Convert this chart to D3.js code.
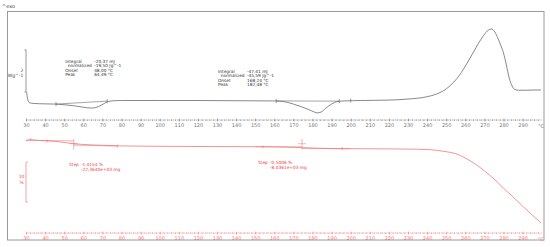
<!DOCTYPE html>
<html>
<head>
<meta charset="utf-8">
<script src="https://cdn.jsdelivr.net/npm/d3@7"></script>
<style>
  body { margin: 0; background: #fff; }
  svg text { font-family: "DejaVu Sans", Verdana, sans-serif; }
</style>
</head>
<body>
<div id="chart"></div>
<script>
// temperature ticks (°C)
const tempTicks = [30, 40, 50, 60, 70, 80, 90, 100, 110, 120, 130, 140, 150, 160, 170, 180, 190, 200, 210, 220, 230, 240, 250, 260, 270, 280, 290];

// DSC heat flow (W/g, relative)
const dscTemp = [30.3, 31, 32, 34, 40, 45.7, 50, 55, 60, 64.5, 68, 71, 73, 76, 80, 100, 120, 140, 160, 163, 166, 170, 174, 178, 181, 182.5, 184.5, 187, 190, 193, 197, 205, 220, 230, 240, 245, 250, 254, 257, 261, 264, 267, 269, 271.5, 273.5, 275.5, 277, 278.5, 280, 281.5, 283, 284.5, 286, 288, 292, 296, 299.6];
const dscFlow = [1.10, 0.71, 0.58, 0.55, 0.53, 0.52, 0.49, 0.44, 0.37, 0.33, 0.40, 0.55, 0.64, 0.68, 0.69, 0.69, 0.69, 0.68, 0.67, 0.66, 0.62, 0.52, 0.40, 0.26, 0.14, 0.10, 0.14, 0.33, 0.52, 0.64, 0.67, 0.69, 0.71, 0.76, 0.87, 1.00, 1.24, 1.57, 1.90, 2.48, 2.95, 3.43, 3.71, 4.00, 4.10, 3.95, 3.67, 3.33, 2.95, 2.38, 1.76, 1.38, 1.21, 1.18, 1.18, 1.19, 1.19];

// DSC integration limits and baselines
const dscLimitsTemp = [45.7, 72.5, 161, 194, 200];
const dscLimitsFlow = [0.52, 0.66, 0.67, 0.66, 0.69];
const dscBase1 = [[45.7, 0.52], [72.5, 0.66]];
const dscBase2 = [[161, 0.67], [194, 0.66]];

// TGA mass (%)
const tgaTemp = [30, 32.5, 36, 41, 45, 50, 55, 60, 70, 80, 100, 120, 150, 160, 170, 180, 190, 200, 220, 230, 240, 245, 250, 255, 260, 265, 270, 275, 280, 285, 290, 295, 299.6];
const tgaMass = [100, 100.2, 100.05, 99.9, 99.8, 99.5, 99.2, 99.0, 98.8, 98.65, 98.55, 98.5, 98.45, 98.4, 98.3, 98.1, 97.98, 97.95, 97.9, 97.85, 97.75, 97.55, 97.2, 96.7, 95.6, 94.2, 92.4, 90.4, 88.1, 85.9, 83.6, 81.4, 79.4];

// TGA step markers
const tgaMarkTemp = [32.5, 41, 78, 154, 195.5];
const tgaMarkMass = [100.2, 99.9, 98.6, 98.45, 97.98];
const tgaStepTemp = [55, 174.5];
const tgaTangent1 = [[30, 100.05], [55, 99.9]];
const tgaTangent2 = [[55, 98.85], [78, 98.6]];
const tgaTangent3 = [[150, 98.45], [174.5, 98.4]];
const tgaTangent4 = [[174.5, 98.05], [200, 97.95]];

// annotation texts
const peak1Text = [["Integral", "-20,37 mJ"], ["  normalized", "-19,50 Jg^-1"], ["Onset", "48,00 °C"], ["Peak", "64,49 °C"]];
const peak2Text = [["Integral", "-47,41 mJ"], ["  normalized", "-45,59 Jg^-1"], ["Onset", "168,24 °C"], ["Peak", "182,48 °C"]];
const step1Text = ["Step", "-1,4154 %", "-22,3640e+03 mg"];
const step2Text = ["Step", "-0,5006 %", "-8,0361e+03 mg"];

// svg size
const width = 550;
const height = 247;

const dscColor = "#6a6a6a";
const tgaColor = "#f07878";
const tgaText = "#e84040";

function createSvg() {
    const svg = d3.select("#chart").append("svg")
        .attr("width", width)
        .attr("height", height)
    return svg
};

// scales
const x = d3.scaleLinear().domain([30, 300]).range([26, 541.7]);
const yDsc = d3.scaleLinear().domain([0, 5]).range([115, 10]);
const yTga = d3.scaleLinear().domain([100, 80]).range([140.5, 220.5]);

function drawAxis(svg, yPos, color) {
    const minor = d3.axisBottom(x)
        .tickValues(d3.range(30, 300, 2))
        .tickSize(1.5)
        .tickSizeOuter(0)
        .tickFormat("")
    const g1 = svg.append("g")
        .attr("transform", `translate(0, ${yPos})`)
        .call(minor)
    g1.select(".domain").attr("stroke", color).attr("stroke-width", 0.6).attr("stroke-dasharray", "1.2,0.7")
    g1.selectAll(".tick line").attr("stroke", color).attr("stroke-width", 0.5)

    const major = d3.axisBottom(x)
        .tickValues(tempTicks)
        .tickSize(3)
        .tickSizeOuter(0)
        .tickPadding(2)
    const g2 = svg.append("g")
        .attr("transform", `translate(0, ${yPos - 1})`)
        .call(major)
    g2.select(".domain").remove()
    g2.selectAll(".tick line").attr("stroke", color).attr("stroke-width", 0.5)
    g2.selectAll(".tick text")
        .attr("fill", color)
        .style("font-size", "5px")
        .style("font-family", "DejaVu Sans, sans-serif")
    svg.append("text")
        .attr("x", x(298))
        .attr("y", yPos + 8)
        .attr("fill", color)
        .style("font-size", "5px")
        .text("°C")
};

function drawText(svg, rows, tx, ty, color) {
    rows.forEach((r, i) => {
        svg.append("text")
            .attr("x", tx)
            .attr("y", ty + i * 4.6)
            .attr("fill", color)
            .style("font-size", "4.3px")
            .attr("xml:space", "preserve")
            .text(r[0])
        svg.append("text")
            .attr("x", tx + 29)
            .attr("y", ty + i * 4.6)
            .attr("fill", color)
            .style("font-size", "4.3px")
            .text(r[1])
    })
};

function createPlot() {
    const svg = createSvg()

    // frame
    svg.append("rect")
        .attr("x", 7.5).attr("y", 11.5)
        .attr("width", 536.5).attr("height", 228.5)
        .attr("fill", "none")
        .attr("stroke", "#9a9a9a")
        .attr("stroke-width", 1)

    svg.append("text")
        .attr("x", 2).attr("y", 8)
        .attr("fill", "#444")
        .style("font-size", "5px")
        .text("^exo")

    drawAxis(svg, 119.5, "#777")
    drawAxis(svg, 232.5, tgaColor)

    // DSC
    const dscData = dscTemp.map((t, i) => [t, dscFlow[i]])
    const line = d3.line().x(d => x(d[0])).y(d => yDsc(d[1]))
    const curve = d3.line().x(d => x(d[0])).y(d => yDsc(d[1])).curve(d3.curveMonotoneX)

    svg.append("path")
        .datum(dscData)
        .attr("d", curve)
        .attr("fill", "none")
        .attr("stroke", dscColor)
        .attr("stroke-width", 0.8)

    ;[dscBase1, dscBase2].forEach(b => {
        svg.append("path").datum(b).attr("d", line)
            .attr("fill", "none").attr("stroke", dscColor).attr("stroke-width", 0.6)
    })

    svg.selectAll(".dscMark")
        .data(dscLimitsTemp)
        .enter()
        .append("line")
        .attr("x1", d => x(d)).attr("x2", d => x(d))
        .attr("y1", (d, i) => yDsc(dscLimitsFlow[i]) - 2)
        .attr("y2", (d, i) => yDsc(dscLimitsFlow[i]) + 2)
        .attr("stroke", dscColor)
        .attr("stroke-width", 0.7)

    // DSC scale bar (2 W/g)
    svg.append("path")
        .datum([[29.2, 3.1], [30, 3.1], [30, 1.1], [29.2, 1.1]])
        .attr("d", line)
        .attr("fill", "none")
        .attr("stroke", dscColor)
        .attr("stroke-width", 0.7)
    svg.append("text")
        .attr("x", x(28.6)).attr("y", yDsc(2.05))
        .attr("text-anchor", "end")
        .attr("fill", "#444")
        .style("font-size", "4.5px")
        .text("2")
    svg.append("text")
        .attr("x", x(28.6)).attr("y", yDsc(1.83))
        .attr("text-anchor", "end")
        .attr("fill", "#444")
        .style("font-size", "4.5px")
        .text("Wg^-1")

    drawText(svg, peak1Text, x(50.5), 62.5, "#333")
    drawText(svg, peak2Text, x(130.5), 72.5, "#333")

    // TGA
    const tgaData = tgaTemp.map((t, i) => [t, tgaMass[i]])
    const tCurve = d3.line().x(d => x(d[0])).y(d => yTga(d[1])).curve(d3.curveMonotoneX)
    svg.append("path")
        .datum(tgaData)
        .attr("d", tCurve)
        .attr("fill", "none")
        .attr("stroke", tgaColor)
        .attr("stroke-width", 0.8)

    const straight = d3.line().x(d => x(d[0])).y(d => yTga(d[1]))
    ;[tgaTangent1, tgaTangent2, tgaTangent3, tgaTangent4].forEach(t => {
        svg.append("path").datum(t).attr("d", straight)
            .attr("fill", "none").attr("stroke", tgaColor).attr("stroke-width", 0.6)
    })

    svg.selectAll(".tgaMark")
        .data(tgaMarkTemp)
        .enter()
        .append("line")
        .attr("x1", d => x(d)).attr("x2", d => x(d))
        .attr("y1", (d, i) => yTga(tgaMarkMass[i]) - 1.5)
        .attr("y2", (d, i) => yTga(tgaMarkMass[i]) + 1.5)
        .attr("stroke", tgaColor)
        .attr("stroke-width", 0.7)

    tgaStepTemp.forEach(t => {
        svg.append("line")
            .attr("x1", x(t)).attr("x2", x(t))
            .attr("y1", yTga(100.4)).attr("y2", yTga(97.7))
            .attr("stroke", tgaColor).attr("stroke-width", 0.6)
        svg.append("line")
            .attr("x1", x(t) - 4).attr("x2", x(t) + 4)
            .attr("y1", yTga(99.2)).attr("y2", yTga(99.2))
            .attr("stroke", tgaColor).attr("stroke-width", 0.5)
    })

    // TGA scale bar (10 %)
    svg.append("path")
        .datum([[31, 94.6], [30, 94.6], [30, 84.6], [31, 84.6]])
        .attr("d", straight)
        .attr("fill", "none")
        .attr("stroke", tgaColor)
        .attr("stroke-width", 0.7)
    svg.append("text")
        .attr("x", x(27.7)).attr("y", yTga(90.6))
        .attr("text-anchor", "middle")
        .attr("fill", tgaText)
        .style("font-size", "4.5px")
        .text("10")
    svg.append("text")
        .attr("x", x(27.7)).attr("y", yTga(89.1))
        .attr("text-anchor", "middle")
        .attr("fill", tgaText)
        .style("font-size", "4.5px")
        .text("%")

    // step labels
    ;[[step1Text, 52.5, 166], [step2Text, 151.5, 164]].forEach(s => {
        const [txt, t0, y0] = s
        svg.append("text").attr("x", x(t0)).attr("y", y0)
            .attr("fill", tgaText).style("font-size", "4.3px").text(txt[0])
        svg.append("text").attr("x", x(t0) + 12).attr("y", y0)
            .attr("fill", tgaText).style("font-size", "4.3px").text(txt[1])
        svg.append("text").attr("x", x(t0) + 12).attr("y", y0 + 4.8)
            .attr("fill", tgaText).style("font-size", "4.3px").text(txt[2])
    })
};

createPlot()
</script>
</body>
</html>
